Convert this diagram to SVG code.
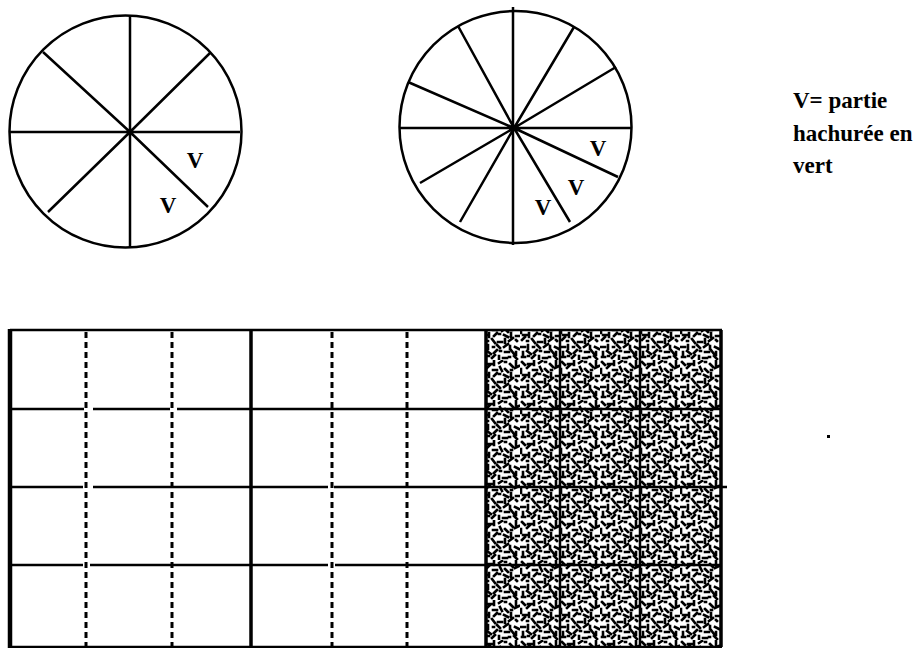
<svg xmlns="http://www.w3.org/2000/svg" width="917" height="648" viewBox="0 0 917 648">
<style>
.ln{stroke:#000;stroke-width:2.5;fill:none}
.hv{stroke:#000;stroke-width:3.5;fill:none}
.ds{stroke:#000;stroke-width:3;stroke-dasharray:6 4;fill:none}
.lbl{font-family:"Liberation Serif",serif;font-size:23px;font-weight:bold;fill:#000}
.note{font-family:"Liberation Serif",serif;font-size:23px;font-weight:bold;fill:#000}
</style>
<defs>
<pattern id="stip" width="40" height="40" patternUnits="userSpaceOnUse">
<path stroke="#000" stroke-width="2.6" stroke-linecap="square" fill="none" d="M2 2l3 3M8 4l4 0M14 1l0 4M19 3l3 -2M25 2l1 0M30 4l3 3M36 1l0 4M1 9l0 4M7 8l3 -3M13 10l4 0M20 7l2 4M25 9l3 3M31 10l1 0M35 8l4 -2M3 15l4 0M9 13l0 4M14 16l3 -3M19 14l1 0M24 15l4 2M31 13l0 4M36 16l3 0M2 20l3 -3M7 21l1 0M12 19l3 4M18 22l4 0M25 19l0 4M29 21l4 -3M36 20l1 1M1 27l4 0M8 25l0 4M13 27l1 0M17 25l3 3M24 27l4 -3M30 26l0 3M35 27l4 2M3 32l0 4M7 31l4 3M14 33l3 -3M20 31l1 0M25 32l4 0M31 30l3 4M36 32l0 3M2 37l3 0M8 36l1 0M12 38l3 -3M19 36l0 3M23 38l4 0M29 37l1 0M34 36l3 3"/>
</pattern>
</defs>
<rect width="917" height="648" fill="#fff"/>

<g id="circle8">
<circle cx="125.5" cy="131.5" r="116" class="ln"/>
<path class="ln" d="M10 132H240M130 15V248M130 132L43 52M130 132L210 53M130 132L208 207M130 132L48 212"/>
<text class="lbl" x="195" y="168" text-anchor="middle">V</text>
<text class="lbl" x="168" y="213" text-anchor="middle">V</text>
</g>

<g id="circle12">
<circle cx="515.5" cy="127" r="116" class="ln"/>
<path class="ln" d="M400 128H631M513 7V245M514 128L574 27M514 128L616 67M514 128L458 26M514 128L408 82M514 128L420 183M514 128L460 222M514 128L618 177M514 128L570 222"/>
<text class="lbl" x="598" y="156" text-anchor="middle">V</text>
<text class="lbl" x="576" y="195" text-anchor="middle">V</text>
<text class="lbl" x="543" y="215" text-anchor="middle">V</text>
</g>

<g id="legend">
<text class="note" x="793" y="108">V= partie</text>
<text class="note" x="793" y="141">hachurée en</text>
<text class="note" x="793" y="173">vert</text>
</g>

<g id="grid">
<rect x="486" y="331" width="235" height="316" fill="url(#stip)"/>
<path class="ds" d="M86 332V647M172 332V647M332 332V647M407 332V647"/>
<path class="ln" d="M10 330H722M10 647H722"/>
<path class="ln" d="M10 409H84M93 409H170M177 409H721M10 487H83M93 487H328M334 487H727M10 565H83M90 565H328M335 565H721"/>
<path class="ln" d="M560 331V647M640 331V647"/>
<path class="hv" d="M251 330V647M486 330V647M721 330V647"/>
<path stroke="#000" stroke-width="4.5" d="M10 329V648"/>
</g>
<rect x="827" y="435" width="3" height="3" fill="#000"/>
</svg>
